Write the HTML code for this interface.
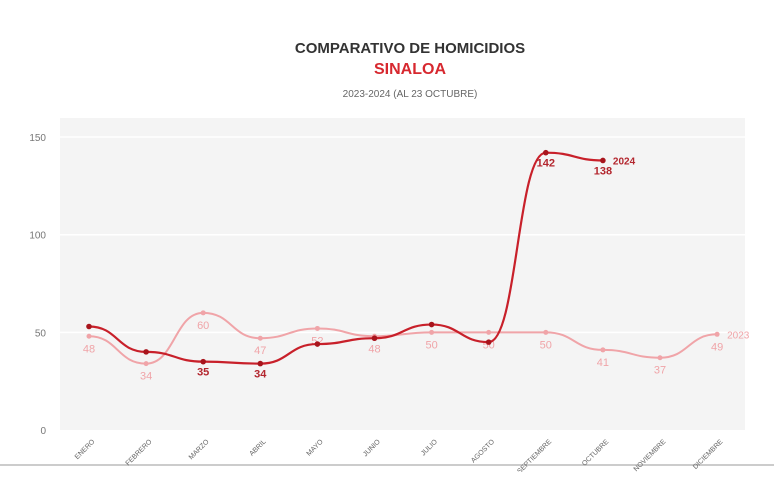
<!DOCTYPE html>
<html><head><meta charset="utf-8"><style>
body{margin:0;background:#fff;font-family:"Liberation Sans",sans-serif}
</style></head><body>
<svg width="774" height="472" viewBox="0 0 774 472" id="c" xmlns="http://www.w3.org/2000/svg">
<text x="410" y="53" text-anchor="middle" font-size="15" font-weight="bold" fill="#333">COMPARATIVO DE HOMICIDIOS</text>
<text x="410" y="74" text-anchor="middle" font-size="16" font-weight="bold" fill="#d7282f">SINALOA</text>
<text x="410" y="97" text-anchor="middle" font-size="10" fill="#666">2023-2024 (AL 23 OCTUBRE)</text>
<rect x="60" y="118" width="685" height="312" fill="#f4f4f4"/>
<line x1="0" y1="465" x2="774" y2="465" stroke="#ccc" stroke-width="2"/>
<g id="g"></g>
</svg>
<script>
const months=["ENERO","FEBRERO","MARZO","ABRIL","MAYO","JUNIO","JULIO","AGOSTO","SEPTIEMBRE","OCTUBRE","NOVIEMBRE","DICIEMBRE"];
const values2023=[48,34,60,47,52,48,50,50,50,41,37,49];
const values2024=[53,40,35,34,44,47,54,45,142,138];
const labels2024=[null,null,35,34,null,null,null,null,142,138];
const yTicks=[0,50,100,150];
const NS="http://www.w3.org/2000/svg";
const g=document.getElementById('g');
const x=i=>89+i*57.1;
const y=v=>430-v*1.953;
function mk(t,a){const e=document.createElementNS(NS,t);for(const k in a)e.setAttribute(k,a[k]);g.appendChild(e);return e;}
yTicks.forEach(t=>{
  if(t>0){const l=mk('line',{x1:60,x2:745,y1:y(t),y2:y(t),stroke:'#fff','stroke-width':1.5});
  
  }
  const tx=mk('text',{x:46,y:y(t)+4,'text-anchor':'end','font-size':10,fill:'#777'});tx.textContent=t;
  
  
});
months.forEach((m,i)=>{
  const tx=mk('text',{x:x(i)+6,y:442,'text-anchor':'end','font-size':7,fill:'#666',transform:`rotate(-45 ${x(i)+6} 442)`});tx.textContent=m;
  
  
});
function smooth(vals){
  const p=vals.map((v,i)=>[x(i),y(v)]);let d=`M${p[0][0]},${p[0][1]}`;
  for(let i=0;i<p.length-1;i++){const a=p[i],b=p[i+1],dx=(b[0]-a[0])/2;d+=` C${a[0]+dx},${a[1]} ${b[0]-dx},${b[1]} ${b[0]},${b[1]}`;}
  return d;
}
const l23=mk('path',{d:smooth(values2023),fill:'none',stroke:'#f0a4a8','stroke-width':2});


values2023.forEach((v,i)=>{
  const c=mk('circle',{cx:x(i),cy:y(v),r:2.5,fill:'#f0a4a8'});
  
  
  const t=mk('text',{x:x(i),y:y(v)+16,'text-anchor':'middle','font-size':11,fill:'#f0a4a8'});t.textContent=v;
  
  
});
const l24=mk('path',{d:smooth(values2024),fill:'none',stroke:'#c8202a','stroke-width':2.2});


values2024.forEach((v,i)=>{
  const c=mk('circle',{cx:x(i),cy:y(v),r:2.8,fill:'#a8141c'});
  
  
  if(labels2024[i]!==null){
    const t=mk('text',{x:x(i),y:y(v)+14,'text-anchor':'middle','font-size':11,'font-weight':'bold',fill:'#b3262e'});t.textContent=labels2024[i];
    
    
  }
});
const s24=mk('text',{x:x(values2024.length-1)+10,y:y(values2024[values2024.length-1])+4,'font-size':10,'font-weight':'bold',fill:'#b3262e'});s24.textContent='2024';


const s23=mk('text',{x:x(11)+10,y:y(values2023[11])+4,'font-size':10,fill:'#f0a4a8'});s23.textContent='2023';


</script>
</body></html>
